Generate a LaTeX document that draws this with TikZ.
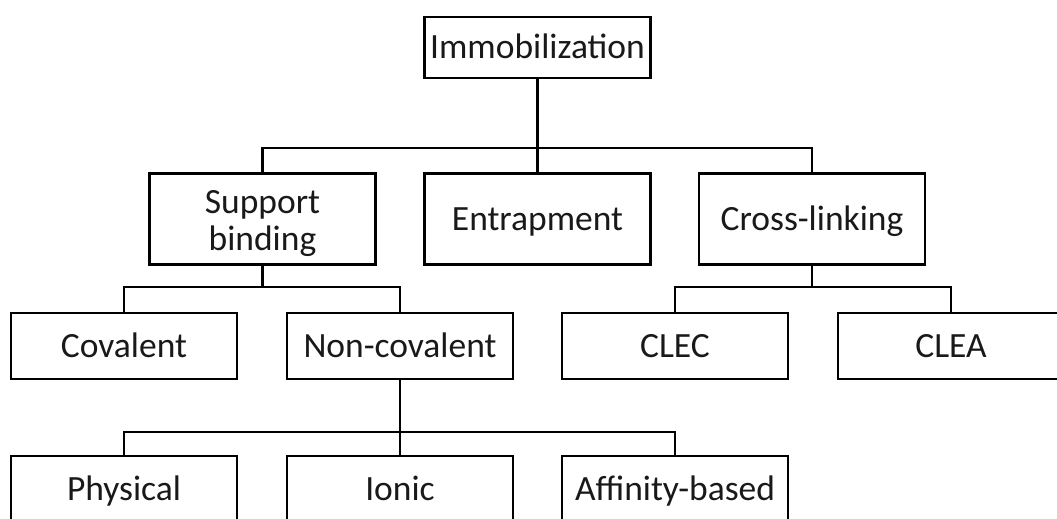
\documentclass[tikz,border=0pt]{standalone}
\usepackage{fontspec}
\setmainfont{Carlito}
\begin{document}
\begin{tikzpicture}[x=1pt,y=-1pt,
  base/.style={draw=black,line width=2.6pt,minimum width=226pt,inner sep=0pt,align=center,
    font=\fontsize{35.5}{37}\selectfont,text=black!90},
  box/.style={base,text height=23pt,text depth=0pt},
  tall/.style={box,minimum height=91pt},
  short/.style={box,minimum height=66pt},
  conn/.style={line width=2.8pt,line cap=rect}]
\useasboundingbox (0,0) rectangle (1057,519);
\clip (0,0) rectangle (1057,519);
\node[box,minimum height=61pt] (imm) at (537.5,47.5) {Immobilization};
\node[base,minimum height=91pt] (sup) at (262.5,219) {};
\node[font=\fontsize{35.5}{37}\selectfont,text=black!90,align=center,inner sep=0pt] (suptext) at (262.5,224) {Support\\binding};
\node[tall] (ent) at (537.5,219) {Entrapment};
\node[tall] (cro) at (812,219) {Cross-linking};
\node[short] (cov) at (124,346) {Covalent};
\node[short] (non) at (400,346) {Non-covalent};
\node[short] (clec) at (675,346) {CLEC};
\node[short] (clea) at (951,346) {CLEA};
\node[short] (phy) at (124,489) {Physical};
\node[short] (ion) at (400,489) {Ionic};
\node[short] (aff) at (675,489) {Affinity-based};
\coordinate (b1) at (537.5,148);
\coordinate (b2) at (262.5,287);
\coordinate (b3) at (812,287);
\coordinate (b4) at (400,432);
\draw[conn] (imm.south) -- (b1) -- (ent.north);
\draw[conn] (sup.north) |- (b1) -| (cro.north);
\draw[conn] (sup.south) -- (b2);
\draw[conn] (cov.north) |- (b2) -| (non.north);
\draw[conn] (cro.south) -- (b3);
\draw[conn] (clec.north) |- (b3) -| (clea.north);
\draw[conn] (non.south) -- (b4) -- (ion.north);
\draw[conn] (phy.north) |- (b4) -| (aff.north);
\end{tikzpicture}
\end{document}
